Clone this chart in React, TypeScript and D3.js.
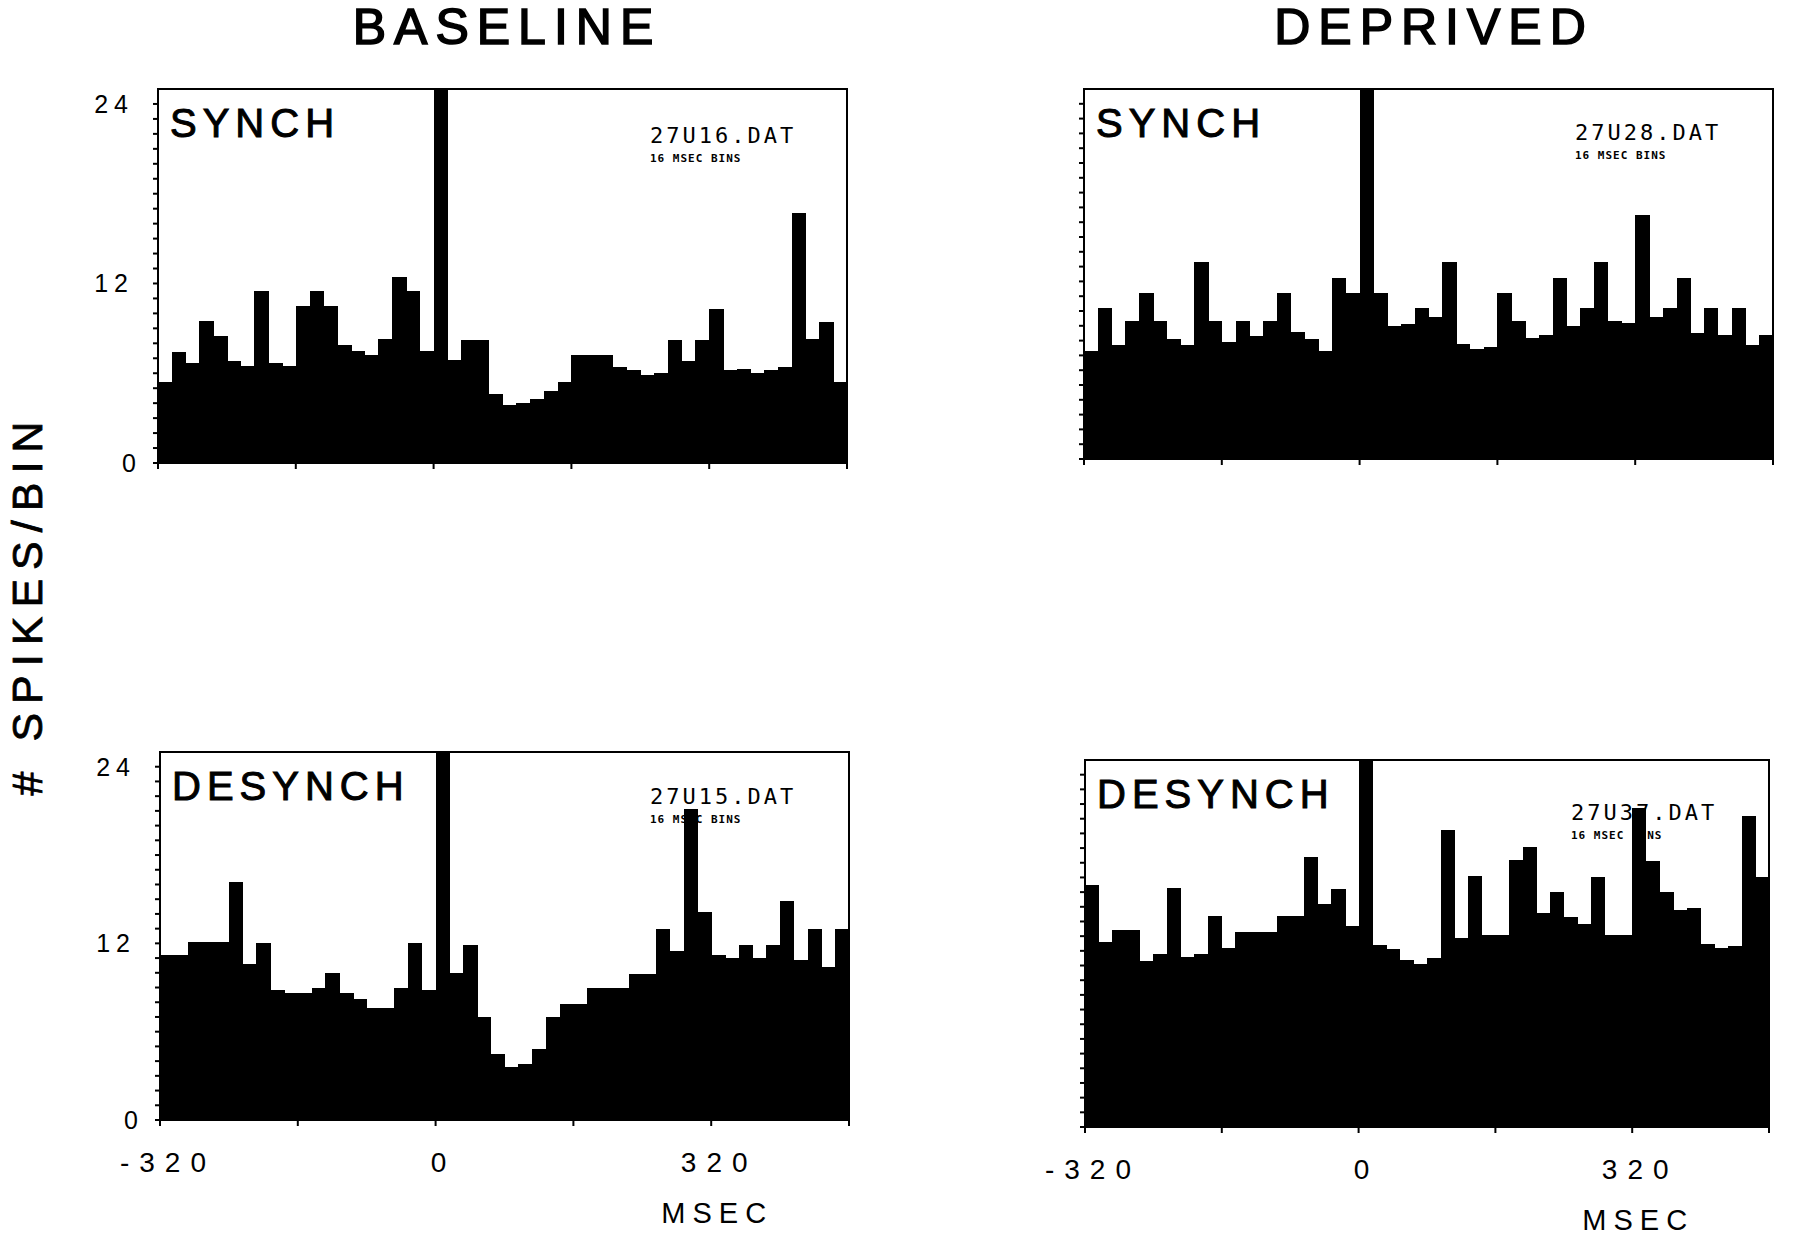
import React, { useRef, useEffect } from 'react';
import * as d3 from 'd3';

// 16 msec bins, left edge of each bin (msec)
const binStarts = [
  -320, -304, -288, -272, -256, -240, -224, -208, -192, -176,
  -160, -144, -128, -112, -96, -80, -64, -48, -32, -16,
  0, 16, 32, 48, 64, 80, 96, 112, 128, 144,
  160, 176, 192, 208, 224, 240, 256, 272, 288, 304,
  320, 336, 352, 368, 384, 400, 416, 432, 448, 464,
];
const binWidth = 16;

// # spikes per bin (the 0 msec bin runs off the top)
const baselineSynch = [
  5.4, 7.4, 6.7, 9.5, 8.5, 6.8, 6.5, 11.5, 6.7, 6.5,
  10.5, 11.5, 10.5, 7.9, 7.5, 7.2, 8.3, 12.4, 11.5, 7.5,
  30, 6.9, 8.2, 8.2, 4.6, 3.9, 4.0, 4.3, 4.8, 5.4,
  7.2, 7.2, 7.2, 6.4, 6.2, 5.9, 6.0, 8.2, 6.8, 8.2,
  10.3, 6.2, 6.3, 6.0, 6.2, 6.4, 16.7, 8.3, 9.4, 5.4,
];
const deprivedSynch = [
  7.3, 10.2, 7.7, 9.3, 11.2, 9.3, 8.1, 7.7, 13.3, 9.3,
  7.9, 9.3, 8.3, 9.3, 11.2, 8.6, 8.1, 7.3, 12.2, 11.2,
  30, 11.2, 9.0, 9.1, 10.2, 9.6, 13.3, 7.8, 7.4, 7.6,
  11.2, 9.3, 8.2, 8.4, 12.2, 9.0, 10.2, 13.3, 9.3, 9.2,
  16.5, 9.6, 10.2, 12.2, 8.5, 10.2, 8.4, 10.2, 7.7, 8.4,
];
const baselineDesynch = [
  11.2, 11.2, 12.1, 12.1, 12.1, 16.2, 10.6, 12.0, 8.8, 8.6,
  8.6, 9.0, 10.0, 8.6, 8.2, 7.6, 7.6, 9.0, 12.0, 8.8,
  30, 10.0, 11.9, 7.0, 4.5, 3.6, 3.8, 4.8, 7.0, 7.9,
  7.9, 9.0, 9.0, 9.0, 9.9, 9.9, 13.0, 11.5, 21.1, 14.1,
  11.2, 11.0, 11.9, 11.0, 11.9, 14.9, 10.9, 13.0, 10.4, 13.0,
];
const deprivedDesynch = [
  16.5, 12.6, 13.4, 13.4, 11.3, 11.8, 16.3, 11.6, 11.8, 14.4,
  12.2, 13.3, 13.3, 13.3, 14.4, 14.4, 18.4, 15.2, 16.2, 13.7,
  30, 12.4, 12.1, 11.4, 11.1, 11.5, 20.2, 12.9, 17.1, 13.1,
  13.1, 18.2, 19.1, 14.6, 16.0, 14.3, 13.8, 17.0, 13.1, 13.1,
  21.7, 18.1, 16.0, 14.8, 14.9, 12.5, 12.2, 12.3, 21.2, 17.0,
];

const yMinorTicks = [0, 1, 2, 3, 4, 5, 6, 7, 8, 9, 10, 11, 12, 13, 14, 15, 16, 17, 18, 19, 20, 21, 22, 23, 24];
const yTickLabels = [0, 12, 24];
const xTicks = [-320, -160, 0, 160, 320, 480];
const xTickLabels = [-320, 0, 320];

const SANS = '"Liberation Sans", Arial, Helvetica, sans-serif';
const MONO = '"DejaVu Sans Mono", "Liberation Mono", monospace';

const panels = [
  { values: baselineSynch, left: 158, top: 89, width: 689, bottom: 463, label: 'SYNCH', file: '27U16.DAT', fileDx: 492, fileDy: 54, yLabels: true, xLabels: false },
  { values: deprivedSynch, left: 1084, top: 89, width: 689, bottom: 459, label: 'SYNCH', file: '27U28.DAT', fileDx: 491, fileDy: 51, yLabels: false, xLabels: false },
  { values: baselineDesynch, left: 160, top: 752, width: 689, bottom: 1120, label: 'DESYNCH', file: '27U15.DAT', fileDx: 490, fileDy: 52, yLabels: true, xLabels: true },
  { values: deprivedDesynch, left: 1085, top: 760, width: 684, bottom: 1127, label: 'DESYNCH', file: '27U37.DAT', fileDx: 486, fileDy: 60, yLabels: false, xLabels: true },
];

const App = () => {
  const svgRef = useRef<SVGSVGElement>(null);

  useEffect(() => {
    const svg = d3.select(svgRef.current);
    svg.selectAll('*').remove();

    svg.append('rect').attr('width', 1800).attr('height', 1243).attr('fill', '#fff');

    // column titles
    [['BASELINE', 507], ['DEPRIVED', 1434]].forEach(([t, cx]) => {
      svg.append('text')
        .attr('x', cx).attr('y', 44)
        .attr('text-anchor', 'middle')
        .attr('font-family', SANS).attr('font-size', 50)
        .attr('letter-spacing', 8)
        .attr('stroke', '#000').attr('stroke-width', 1.6)
        .text(t as string);
    });

    // shared y label
    svg.append('text')
      .attr('transform', 'translate(42,604) rotate(-90)')
      .attr('text-anchor', 'middle')
      .attr('font-family', SANS).attr('font-size', 43)
      .attr('letter-spacing', 9)
      .attr('stroke', '#000').attr('stroke-width', 0.8)
      .text('# SPIKES/BIN');

    panels.forEach(p => {
      const g = svg.append('g');
      const x = d3.scaleLinear().domain([-320, 480]).range([p.left, p.left + p.width]);
      const y = d3.scaleLinear().domain([0, 25]).range([p.bottom, p.top]).clamp(true);

      // labels inside the frame (bars are drawn over them)
      g.append('text')
        .attr('x', p.left + 12).attr('y', p.top + 48)
        .attr('font-family', SANS).attr('font-size', 40)
        .attr('letter-spacing', 6)
        .attr('stroke', '#000').attr('stroke-width', 1)
        .text(p.label);
      g.append('text')
        .attr('x', p.left + p.fileDx).attr('y', p.top + p.fileDy)
        .attr('font-family', MONO).attr('font-size', 22)
        .attr('letter-spacing', 3)
        .text(p.file);
      g.append('text')
        .attr('x', p.left + p.fileDx).attr('y', p.top + p.fileDy + 19)
        .attr('font-family', MONO).attr('font-size', 11)
        .attr('font-weight', 'bold')
        .attr('letter-spacing', 1)
        .text('16 MSEC BINS');

      // histogram bars
      g.append('g')
        .selectAll('rect')
        .data(p.values.map((v, i) => ({ start: binStarts[i], v })))
        .join('rect')
        .attr('x', d => x(d.start))
        .attr('y', d => y(d.v))
        .attr('width', d => x(d.start + binWidth) - x(d.start) + 0.6)
        .attr('height', d => y(0) - y(d.v))
        .attr('fill', '#000')
        .attr('shape-rendering', 'crispEdges');

      // frame
      g.append('path')
        .attr('d', `M${p.left},${p.bottom}V${p.top}H${p.left + p.width}V${p.bottom}H${p.left}`)
        .attr('fill', 'none')
        .attr('stroke', '#000')
        .attr('stroke-width', 2);

      // left axis minor ticks
      g.append('g')
        .selectAll('line')
        .data(yMinorTicks)
        .join('line')
        .attr('x1', p.left - 5).attr('x2', p.left)
        .attr('y1', d => y(d)).attr('y2', d => y(d))
        .attr('stroke', '#000').attr('stroke-width', 2);

      // bottom axis ticks
      g.append('g')
        .selectAll('line')
        .data(xTicks)
        .join('line')
        .attr('x1', d => x(d)).attr('x2', d => x(d))
        .attr('y1', p.bottom).attr('y2', p.bottom + 6)
        .attr('stroke', '#000').attr('stroke-width', 2);

      if (p.yLabels) {
        g.append('g')
          .selectAll('text')
          .data(yTickLabels)
          .join('text')
          .attr('x', d => (d === 0 ? p.left - 16 : p.left - 24))
          .attr('y', d => y(d) + 9)
          .attr('text-anchor', 'end')
          .attr('font-family', SANS).attr('font-size', 25)
          .attr('letter-spacing', 6)
          .text(d => String(d));
      }

      if (p.xLabels) {
        g.append('g')
          .selectAll('text')
          .data(xTickLabels)
          .join('text')
          .attr('x', d => x(d) + 8)
          .attr('y', p.bottom + 52)
          .attr('text-anchor', 'middle')
          .attr('font-family', SANS).attr('font-size', 28)
          .attr('letter-spacing', 10)
          .text(d => String(d));
        g.append('text')
          .attr('x', x(320) + 6).attr('y', p.bottom + 103)
          .attr('text-anchor', 'middle')
          .attr('font-family', SANS).attr('font-size', 29)
          .attr('letter-spacing', 7)
          .text('MSEC');
      }
    });
  }, []);

  return (
    <svg
      ref={svgRef}
      width={1800}
      height={1243}
      viewBox="0 0 1800 1243"
      style={{ position: 'absolute', left: 0, top: 0, display: 'block' }}
    />
  );
};

export default App;
